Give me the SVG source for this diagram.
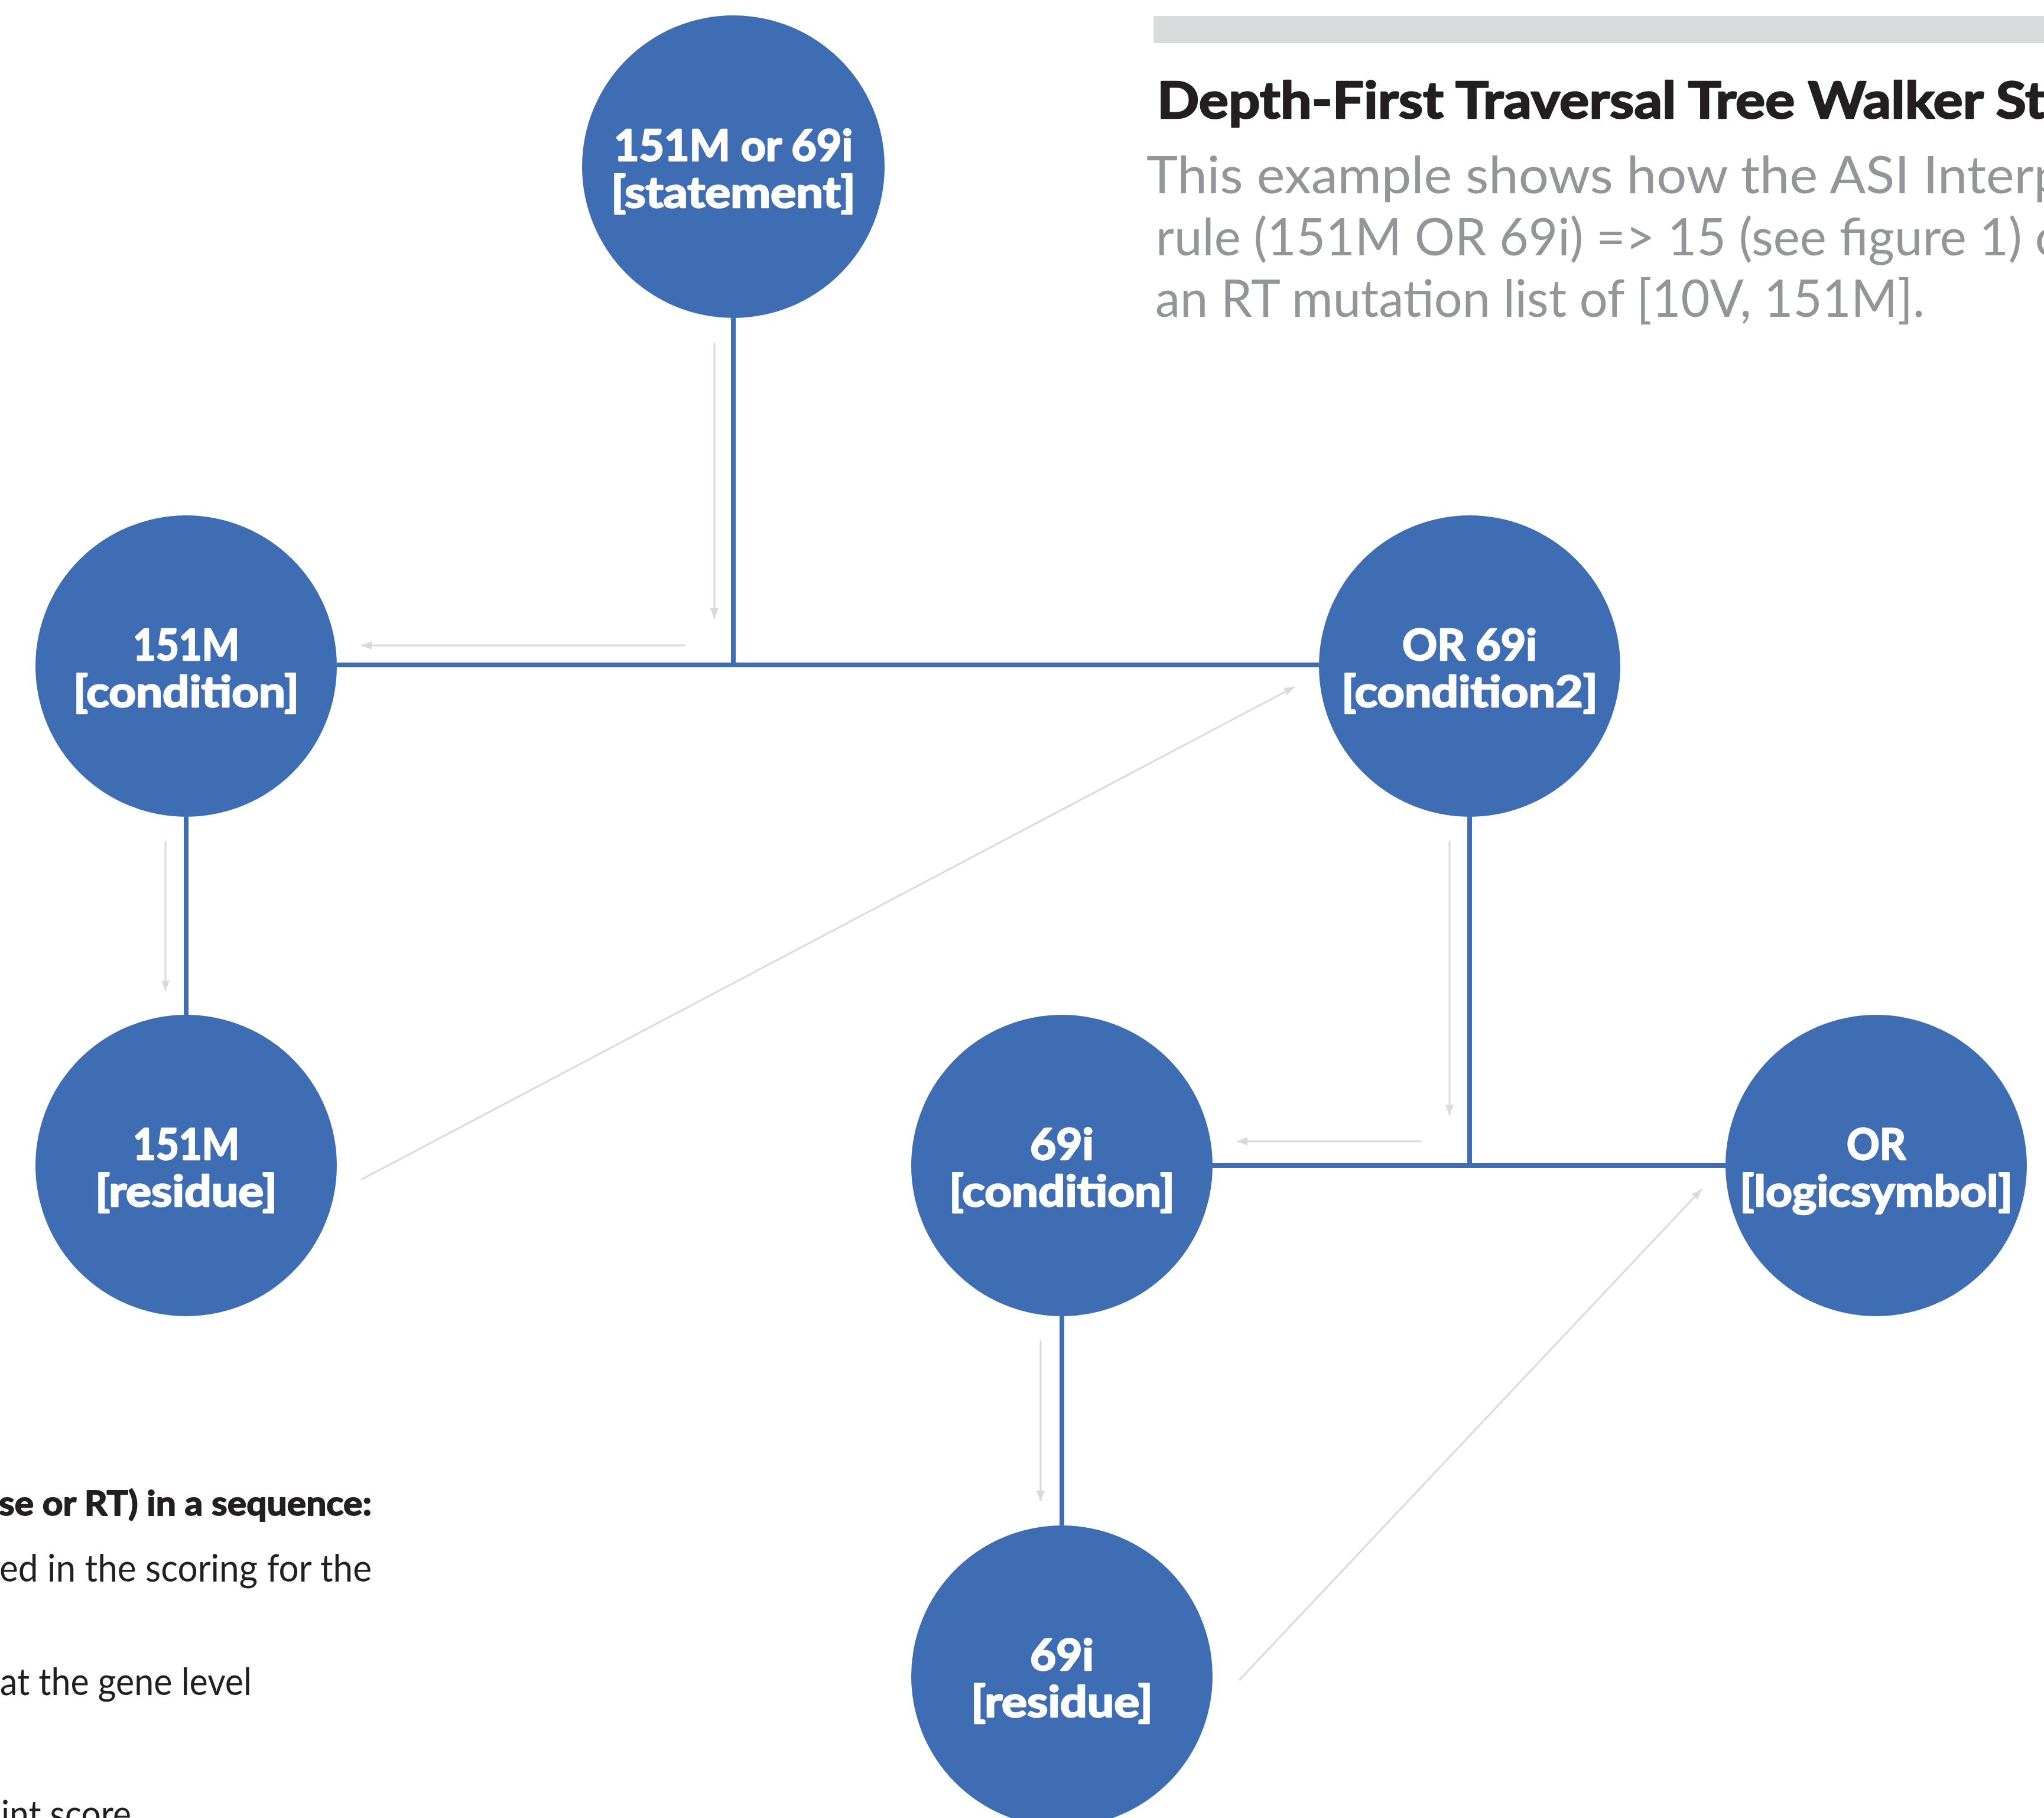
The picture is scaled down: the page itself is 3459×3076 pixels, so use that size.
<svg xmlns="http://www.w3.org/2000/svg" width="3459" height="3076" viewBox="0 0 3459 3076">
<style>
.node{fill:#3e6db4}
.lbl{font-family:Lato,"Source Sans Pro","Open Sans",sans-serif;font-weight:700;font-size:72px;fill:#ffffff;stroke:#ffffff;stroke-width:2.5;stroke-linejoin:round}
.tree{stroke:#3e6db4;stroke-width:8;fill:none}
.walk{stroke:#d9dadb;stroke-width:3;fill:none;marker-end:url(#ah)}
.title{font-family:Lato,"Open Sans",sans-serif;font-weight:700;font-size:86px;fill:#231f20;stroke:#231f20;stroke-width:2.5;stroke-linejoin:round}
.sub{font-family:Lato,"Open Sans",sans-serif;font-weight:400;font-size:88px;fill:#939598}
.bb{font-family:Lato,"Open Sans",sans-serif;font-weight:700;font-size:58px;fill:#231f20;stroke:#231f20;stroke-width:1.8;stroke-linejoin:round}
.br{font-family:Lato,"Open Sans",sans-serif;font-weight:400;font-size:64px;fill:#231f20}
</style>
<defs>
<marker id="ah" markerUnits="userSpaceOnUse" markerWidth="20" markerHeight="16" refX="18" refY="7" orient="auto">
<path d="M0,0 L18,7 L0,14 Z" fill="#d9dadb"/>
</marker>
</defs>
<rect width="3459" height="3076" fill="#ffffff"/>
<g id="header">
<rect x="1952" y="27" width="1520" height="46" fill="#d9dadc"/>
<text class="title" x="1958" y="200" textLength="1504" lengthAdjust="spacingAndGlyphs">Depth-First Traversal Tree Walker St</text>
<text class="sub" x="1940" y="327" textLength="1552" lengthAdjust="spacingAndGlyphs">This example shows how the ASI Interp</text>
<text class="sub" x="1956" y="432" textLength="1536" lengthAdjust="spacingAndGlyphs">rule (151M OR 69i) =&gt; 15 (see figure 1) o</text>
<text class="sub" x="1955" y="536" textLength="1302" lengthAdjust="spacingAndGlyphs">an RT mutation list of [10V, 151M].</text>
</g>
<g id="side-text">
<text class="bb" x="-2" y="2564" textLength="631" lengthAdjust="spacingAndGlyphs">se or RT) in a sequence:</text>
<text class="br" x="-1" y="2676" textLength="630" lengthAdjust="spacingAndGlyphs">ed in the scoring for the</text>
<text class="br" x="0" y="2868" textLength="426" lengthAdjust="spacingAndGlyphs">at the gene level</text>
<text class="br" x="2" y="3092" textLength="220" lengthAdjust="spacingAndGlyphs">int score</text>
</g>
<g id="connectors">
<path class="tree" d="M1241 537 V1125"/>
<path class="tree" d="M570 1125 H2232"/>
<path class="tree" d="M315 1382 V1717"/>
<path class="tree" d="M2487 1382 V1972"/>
<path class="tree" d="M2052 1972 H2920"/>
<path class="tree" d="M1797 2227 V2581"/>
<path class="walk" d="M1209 580 V1047"/>
<path class="walk" d="M1160 1092 H611"/>
<path class="walk" d="M280 1423 V1677"/>
<path class="walk" d="M611 1996 L2191 1162"/>
<path class="walk" d="M2453 1423 V1887"/>
<path class="walk" d="M2406 1931 H2093"/>
<path class="walk" d="M1761 2268 V2540"/>
<path class="walk" d="M2097 2843 L2880 2012"/>
</g>
<g id="n-statement">
<circle class="node" cx="1241" cy="282" r="256"/>
<text class="lbl" x="1039" y="272" textLength="404" lengthAdjust="spacingAndGlyphs">151M or 69i</text>
<text class="lbl" x="1034" y="351" textLength="414" lengthAdjust="spacingAndGlyphs">[statement]</text>
</g>
<g id="n-151M-condition">
<circle class="node" cx="315" cy="1127" r="255"/>
<text class="lbl" x="225" y="1117" textLength="180" lengthAdjust="spacingAndGlyphs">151M</text>
<text class="lbl" x="124" y="1196" textLength="382" lengthAdjust="spacingAndGlyphs">[condition]</text>
</g>
<g id="n-or69i-condition2">
<circle class="node" cx="2487" cy="1127" r="255"/>
<text class="lbl" x="2373" y="1117" textLength="228" lengthAdjust="spacingAndGlyphs">OR 69i</text>
<text class="lbl" x="2270" y="1196" textLength="434" lengthAdjust="spacingAndGlyphs">[condition2]</text>
</g>
<g id="n-151M-residue">
<circle class="node" cx="315" cy="1972" r="255"/>
<text class="lbl" x="225" y="1962" textLength="180" lengthAdjust="spacingAndGlyphs">151M</text>
<text class="lbl" x="161" y="2041" textLength="308" lengthAdjust="spacingAndGlyphs">[residue]</text>
</g>
<g id="n-69i-condition">
<circle class="node" cx="1797" cy="1972" r="255"/>
<text class="lbl" x="1743" y="1962" textLength="108" lengthAdjust="spacingAndGlyphs">69i</text>
<text class="lbl" x="1606" y="2041" textLength="382" lengthAdjust="spacingAndGlyphs">[condition]</text>
</g>
<g id="n-or-logicsymbol">
<circle class="node" cx="3175" cy="1972" r="255"/>
<text class="lbl" x="3125" y="1962" textLength="100" lengthAdjust="spacingAndGlyphs">OR</text>
<text class="lbl" x="2944" y="2041" textLength="462" lengthAdjust="spacingAndGlyphs">[logicsymbol]</text>
</g>
<g id="n-69i-residue">
<circle class="node" cx="1797" cy="2836" r="255"/>
<text class="lbl" x="1743" y="2826" textLength="108" lengthAdjust="spacingAndGlyphs">69i</text>
<text class="lbl" x="1643" y="2905" textLength="308" lengthAdjust="spacingAndGlyphs">[residue]</text>
</g>
</svg>
